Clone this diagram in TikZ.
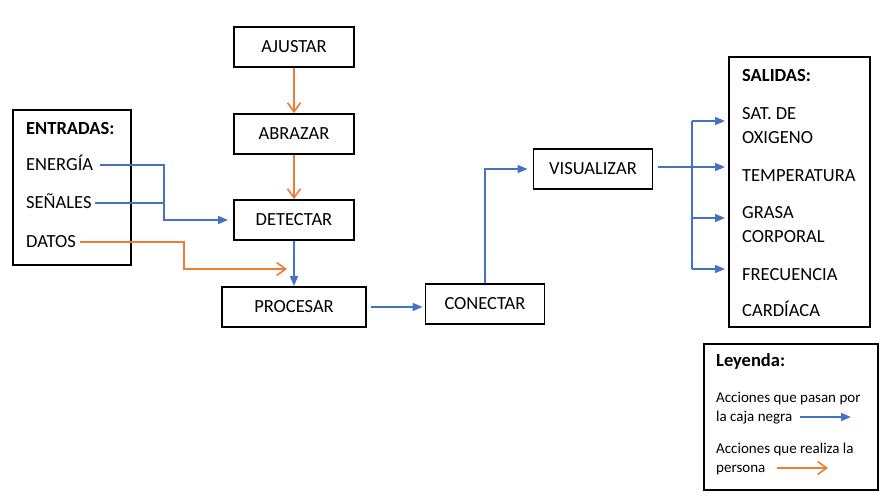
\documentclass[tikz,border=0pt]{standalone}
\usepackage{fontspec}
\setmainfont{Carlito}
\usetikzlibrary{%
  arrows.meta
}
\definecolor{flujo}{HTML}{4472C4}
\definecolor{persona}{HTML}{ED7D31}
\tikzset{
  caja/.style={draw,line width=1.8pt,minimum width=120pt,minimum height=40pt,font=\fontsize{18.5}{22}\selectfont},
  marco/.style={draw,line width=1.8pt},
  texto/.style={anchor=west,inner sep=0pt,text height=12pt,text depth=0pt,font=\fontsize{18.5}{22}\selectfont},
  nota/.style={anchor=west,inner sep=0pt,text height=10pt,text depth=0pt,font=\fontsize{15}{18}\selectfont},
  linea/.style={draw=flujo,line width=1.6pt},
  azul/.style={linea,-{Triangle[length=10pt,width=8pt]}},
  naranja/.style={draw=persona,line width=1.6pt,-{Straight Barb[length=9pt,width=13pt]}},
}

\begin{document}
\begin{tikzpicture}[x=1pt,y=-1pt]
\useasboundingbox (0,0) rectangle (892,502);
\def\colX{294}
%%%acciones
\node[caja] (ajustar) at (\colX,47) {AJUSTAR};
\node[caja] (abrazar) at (\colX,134) {ABRAZAR};
\node[caja] (detectar) at (\colX,220) {DETECTAR};
\node[caja,minimum width=144pt] (procesar) at (\colX,307) {PROCESAR};
\node[caja,minimum width=119pt] (conectar) at (485,304) {CONECTAR};
\node[caja,minimum width=119pt] (visualizar) at (593,169) {VISUALIZAR};

%%%entradas
\node[marco,minimum width=118pt,minimum height=155pt] (entradas) at (72,187.5) {};
\node[texto] (tentradas) at (26,129) {\bfseries ENTRADAS:};
\node[texto] (energia) at (26,165) {ENERGÍA};
\node[texto] (senales) at (26,203) {SEÑALES};
\node[texto] (datos) at (26,242) {DATOS};

%%%salidas
\node[marco,minimum width=141pt,minimum height=270pt] (salidas) at (799.5,192) {};
\node[texto] (tsalidas) at (742,75.5) {\bfseries SALIDAS:};
\node[texto] (sat) at (742,113.5) {SAT. DE};
\node[texto] (oxigeno) at (742,137.5) {OXIGENO};
\node[texto] (temperatura) at (742,175.5) {TEMPERATURA};
\node[texto] (grasa) at (742,212.5) {GRASA};
\node[texto] (corporal) at (742,236.5) {CORPORAL};
\node[texto] (frecuencia) at (742,274.5) {FRECUENCIA};
\node[texto] (cardiaca) at (742,311) {CARDÍACA};

%%%leyenda
\node[marco,minimum width=174pt,minimum height=146pt] (leyenda) at (791,417) {};
\node[texto] (tleyenda) at (716,361) {\bfseries Leyenda:};
\node[nota] (pasan) at (716,398) {Acciones que pasan por};
\node[nota] (caja) at (716,417) {la caja negra};
\node[nota] (realiza) at (716,449) {Acciones que realiza la};
\node[nota] (quien) at (716,468) {persona};

%%%codos
\coordinate (codo) at (164,0);
\coordinate (quiebre) at (184,0);
\coordinate (llegada) at (287,269);
\coordinate (tronco) at (692,0);
\coordinate (s1) at (725,121);
\coordinate (s2) at (725,167);
\coordinate (s3) at (725,218);
\coordinate (s4) at (725,269);

%%% entradas a detectar
\draw[azul,shorten <=7pt,shorten >=5pt] (energia.east) -- (energia.east -| codo) |- (detectar.west);
\draw[linea,shorten <=3pt] (senales.east) -- (senales.east -| codo);
\draw[naranja,shorten <=4pt] (datos.east) -- (datos.east -| quiebre) |- (llegada);

%%% columna central
\draw[naranja] (ajustar) -- (abrazar);
\draw[naranja] (abrazar) -- (detectar);
\draw[azul] (detectar) -- (procesar);
\draw[azul,shorten <=4pt,shorten >=2pt] (procesar.east) -- (procesar.east -| conectar.west);
\draw[azul,shorten >=5pt] (conectar.north) |- (visualizar.west);

%%% salidas
\draw[linea,shorten <=5pt] (visualizar.east |- s2) -- (tronco |- s2);
\draw[linea] (tronco |- s1) -- (tronco |- s4);
\foreach \s in {s1,s2,s3,s4}
  \draw[azul] (tronco |- \s) -- (\s);

%% leyenda flechas
\draw[azul,shorten <=7pt] (caja.east) -- (caja.east -| 851,0);
\draw[naranja,shorten <=11pt] (quien.east) -- (quien.east -| 828,0);

\end{tikzpicture}
\end{document}
